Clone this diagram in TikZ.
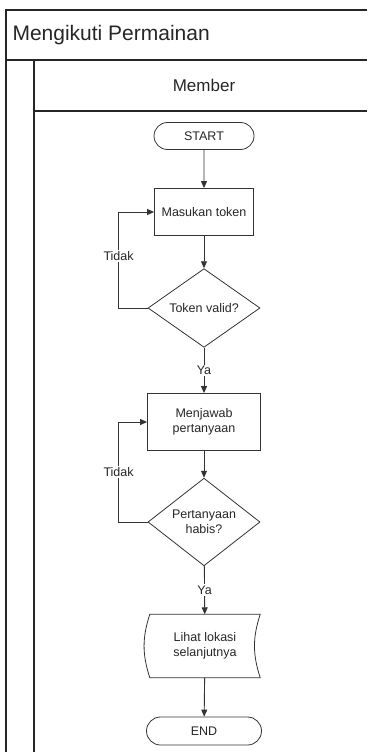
\documentclass[tikz,border=0pt]{standalone}
\usepackage{fontspec}
\setmainfont{Liberation Sans}
\usetikzlibrary{positioning,shapes,arrows.meta}

\tikzset{
  terminal/.style={rounded rectangle, draw=black!80, line width=0.8pt, minimum height=27pt, inner sep=0pt, font=\fontsize{12.5}{14}\selectfont, text=black!85},
  process/.style={rectangle, draw=black!80, line width=0.8pt, inner sep=0pt, align=center, font=\fontsize{12.5}{15}\selectfont, text=black!85},
  decision/.style={diamond, draw=black!80, line width=0.8pt, inner sep=0pt, minimum width=112pt, minimum height=66pt, align=center, font=\fontsize{12.5}{15}\selectfont, text=black!85},
  flow/.style={draw=black!80, line width=0.9pt, -{Triangle[length=7pt,width=6pt]}},
  lbl/.style={fill=white, inner sep=1.5pt, font=\fontsize{12.5}{14}\selectfont, text=black!85},
  lane/.style={draw=black!85, line width=1.1pt}
}

\begin{document}
\begin{tikzpicture}[x=1pt,y=-1pt]
\useasboundingbox (0,0) rectangle (367,752);

% Draw the swimlane
\draw[lane] (367,10) -- (6,10) -- (6,752);
\draw[lane] (6,60) -- (367,60);
\draw[lane] (34,60) -- (34,752);
\draw[lane] (34,111) -- (367,111);

\node[anchor=west, font=\fontsize{21}{24}\selectfont, text=black!85] (title) at (9,35) {Mengikuti Permainan};
\node[font=\fontsize{17}{20}\selectfont, text=black!85] (lanename) at (204,85) {Member};

% Flowchart nodes
\node[terminal, minimum width=100pt] (start) at (204,136) {START};
\node[process, minimum width=99pt, minimum height=47pt] (token) at (204,212) {Masukan token};
\node[decision] (valid) at (204,308) {Token valid?};
\node[process, minimum width=113pt, minimum height=57pt] (jawab) at (204,422) {Menjawab\\pertanyaan};
\node[decision] (habis) at (204,522) {Pertanyaan\\habis?};
\node[rectangle, minimum width=110pt, minimum height=63pt, inner sep=0pt, align=center, font=\fontsize{12.5}{15}\selectfont, text=black!85] (lokasi) at (205,646) {Lihat lokasi\\selanjutnya};
\draw[draw=black!80, line width=0.8pt] (lokasi.north west) to[bend right=18] (lokasi.south west) -- (lokasi.south east) to[bend left=18] (lokasi.north east) -- cycle;
\node[terminal, minimum width=115pt, minimum height=28pt] (end) at (204,731) {END};

% Connectors
\draw[flow] (start) -- (token);
\draw[flow] (token) -- (valid);
\draw[flow] (valid) -- node[lbl] {Ya} (jawab);
\draw[flow] (valid.west) -- ++(-29,0) |- node[lbl, pos=0.27] {Tidak} (token.west);
\draw[flow] (jawab) -- (habis);
\draw[flow] (habis.west) -- ++(-29,0) |- node[lbl, pos=0.25] {Tidak} (jawab.west);
\draw[flow] (habis) -- node[lbl] {Ya} (lokasi);
\draw[flow] (lokasi) -- (end);

\end{tikzpicture}
\end{document}
